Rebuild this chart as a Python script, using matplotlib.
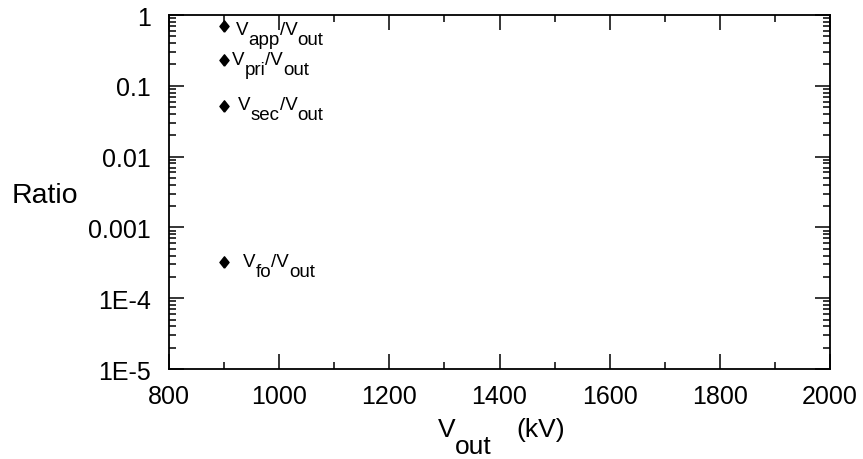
import matplotlib
matplotlib.use('Agg')
import matplotlib.pyplot as plt
from matplotlib.ticker import LogLocator, NullFormatter
from matplotlib.transforms import IdentityTransform
import numpy as np

plt.rcParams['font.family'] = ['Liberation Sans', 'DejaVu Sans']

# data
v_out = [900, 900, 900, 900]
ratios = [0.70, 0.23, 0.052, 3.2e-4]
numerators = ['app', 'pri', 'sec', 'fo']
xtick_vals = [800, 1000, 1200, 1400, 1600, 1800, 2000]
ytick_vals = [1e-5, 1e-4, 1e-3, 1e-2, 1e-1, 1]
ytick_labels = ['1E-5', '1E-4', '0.001', '0.01', '0.1', '1']

# label offsets from the marker, in pixels (dx right, dy down)
label_offsets = [(12, 8), (8, 4), (14, 3), (19, 4)]

W, H = 863, 460
fig = plt.figure(figsize=(W / 100, H / 100), dpi=100)
ax = fig.add_axes([169 / W, 90 / H, 661 / W, 354 / H])

ax.set_yscale('log')
ax.set_xlim(800, 2000)
ax.set_ylim(1e-5, 1)
ax.set_xticks(xtick_vals)
ax.set_xticks(np.arange(900, 2000, 200), minor=True)
ax.set_yticks(ytick_vals, ytick_labels)
ax.yaxis.set_minor_locator(LogLocator(base=10, subs=np.arange(2, 10), numticks=30))
ax.yaxis.set_minor_formatter(NullFormatter())

ax.tick_params(which='both', direction='in', top=True, right=True, width=1.1)
ax.tick_params(which='major', length=10.5, labelsize=18)
ax.tick_params(axis='x', which='major', pad=11)
ax.tick_params(axis='y', which='major', pad=13)
ax.tick_params(which='minor', length=5)
for sp in ax.spines.values():
    sp.set_linewidth(1.3)

diamond = [(0, -1), (0.8, 0), (0, 1), (-0.8, 0), (0, -1)]
ax.plot(v_out, ratios, linestyle='none', marker=diamond, markersize=8.2,
        color='black')

renderer = fig.canvas.get_renderer()


def rich_text(x, y, parts, size, drop):
    """text with full size subscripts, position in pixels (baseline)"""
    for s, is_sub, gap in parts:
        t = fig.text(x, y - drop if is_sub else y, s, transform=IdentityTransform(),
                     fontsize=size, ha='left', va='baseline', color='black')
        x = t.get_window_extent(renderer).x1 + gap


# point labels
for xv, yv, name, (dx, dy) in zip(v_out, ratios, numerators, label_offsets):
    px, py = ax.transData.transform((xv, yv))
    rich_text(px + dx, py - dy,
              [('V', False, 0), (name, True, 0), ('/V', False, 0), ('out', True, 0)],
              13.5, 10)

# axis labels
rich_text(12, H - 203, [('Ratio', False, 0)], 20.5, 0)
cx = ax.transAxes.transform((0.5, 0))[0]
rich_text(cx - 62, H - 437, [('V', False, 0), ('out', True, 24), ('(kV)', False, 0)], 19, 17)

fig.savefig('out.png', dpi=100, facecolor='white')
